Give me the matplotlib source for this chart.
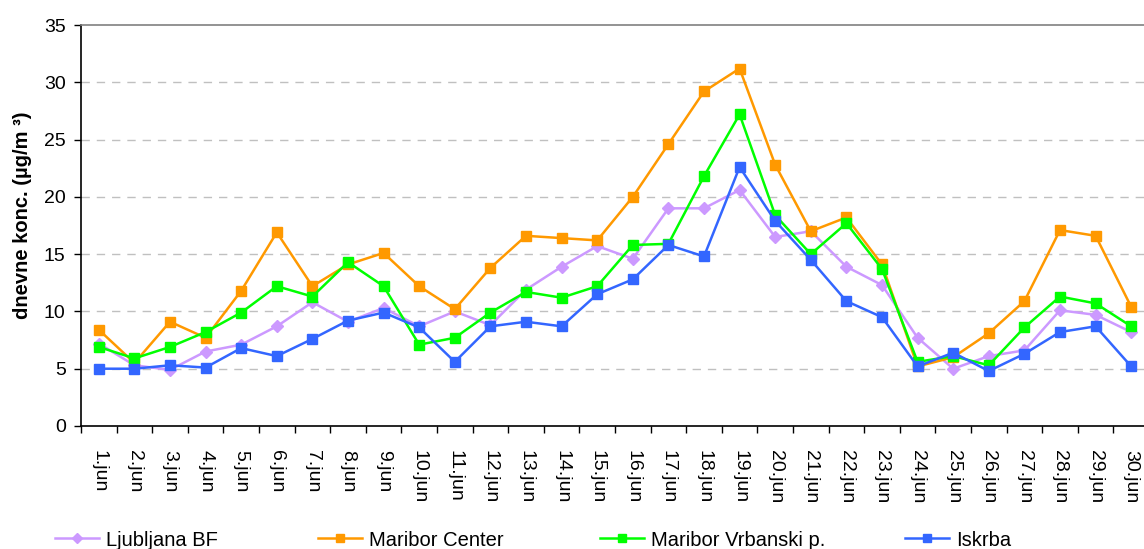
import matplotlib
matplotlib.use("Agg")
import matplotlib.pyplot as plt
from matplotlib.lines import Line2D
import numpy as np

plt.rcParams['font.family'] = ['Liberation Sans', 'DejaVu Sans']

days = [f"{d}.jun" for d in range(1, 31)]

ljubljana_bf = [7.2, 5.3, 4.9, 6.5, 7.1, 8.7, 10.8, 9.1, 10.3, 8.7,
                10.0, 8.8, 11.9, 13.9, 15.7, 14.6, 19.0, 19.0, 20.6, 16.5,
                17.0, 13.9, 12.3, 7.7, 5.0, 6.1, 6.6, 10.1, 9.7, 8.2]
maribor_center = [8.4, 5.5, 9.1, 7.7, 11.8, 16.9, 12.2, 14.1, 15.1, 12.2,
                  10.2, 13.8, 16.6, 16.4, 16.2, 20.0, 24.6, 29.2, 31.2, 22.8,
                  17.0, 18.2, 14.1, 5.2, 6.0, 8.1, 10.9, 17.1, 16.6, 10.4]
maribor_vrbanski = [6.9, 5.9, 6.9, 8.2, 9.9, 12.2, 11.3, 14.3, 12.2, 7.1,
                    7.7, 9.9, 11.7, 11.2, 12.2, 15.8, 15.9, 21.8, 27.2, 18.4,
                    15.0, 17.7, 13.7, 5.6, 6.1, 5.3, 8.6, 11.3, 10.7, 8.7]
iskrba = [5.0, 5.0, 5.3, 5.1, 6.8, 6.1, 7.6, 9.2, 9.9, 8.6,
          5.6, 8.7, 9.1, 8.7, 11.5, 12.8, 15.8, 14.8, 22.6, 17.9,
          14.5, 10.9, 9.5, 5.2, 6.4, 4.8, 6.3, 8.2, 8.7, 5.2]

series = [
    ("Ljubljana BF", ljubljana_bf, "#CC99FF", "D", 6),
    ("Maribor Center", maribor_center, "#FF9900", "s", 6.5),
    ("Maribor Vrbanski p.", maribor_vrbanski, "#00FF00", "s", 6.5),
    ("Iskrba", iskrba, "#3366FF", "s", 6.5),
]

W, H = 1144, 549
fig = plt.figure(figsize=(W / 100, H / 100), dpi=100)
ax = fig.add_axes([81 / W, (H - 426) / H, (1149 - 81) / W, (426 - 25) / H])

x = np.arange(len(days))
for name, vals, color, marker, ms in series:
    ax.plot(x, vals, color=color, lw=1.8, marker=marker, ms=ms,
            markeredgecolor=color, markerfacecolor=color, label=name, zorder=3)

ax.set_xlim(-0.5, len(days) - 0.5)
ax.set_ylim(0, 35)
ax.set_yticks(np.arange(0, 36, 5))
ax.tick_params(axis='y', labelsize=14, length=5, width=1, direction='out', pad=6)

ax.set_xticks(x)
ax.set_xticklabels(days, rotation=-90, fontsize=14)
ax.set_xticks(np.arange(-0.5, len(days), 1), minor=True)
ax.tick_params(axis='x', which='major', length=0, pad=17)
ax.tick_params(axis='x', which='minor', length=5, width=1, direction='out')

for yv in range(5, 35, 5):
    ax.axhline(yv, color='#C0C0C0', lw=1, dashes=(6, 5), zorder=1)

ax.spines['top'].set_color('#808080')
ax.spines['top'].set_linewidth(1.2)
ax.spines['right'].set_visible(False)
ax.spines['left'].set_color('black')
ax.spines['bottom'].set_color('black')
ax.spines['left'].set_linewidth(1.2)
ax.spines['bottom'].set_linewidth(1.2)

ax.set_ylabel("dnevne konc. (µg/m ³)", fontsize=14.5, fontweight='bold')
ax.yaxis.set_label_coords(-0.046, 0.525)

# legend entries placed individually along the bottom
legend_x = [55, 318, 600, 905]
for (name, vals, color, marker, ms), lx in zip(series, legend_x):
    h = Line2D([], [], color=color, lw=1.8, marker=marker, ms=ms - 1,
               markeredgecolor=color, markerfacecolor=color)
    fig.legend([h], [name], loc='center left', bbox_to_anchor=(lx / W, 1 - 540 / H),
               frameon=False, fontsize=14.5, handlelength=2.2, handletextpad=0.35,
               borderpad=0, borderaxespad=0)

fig.savefig("out.png", dpi=100)
